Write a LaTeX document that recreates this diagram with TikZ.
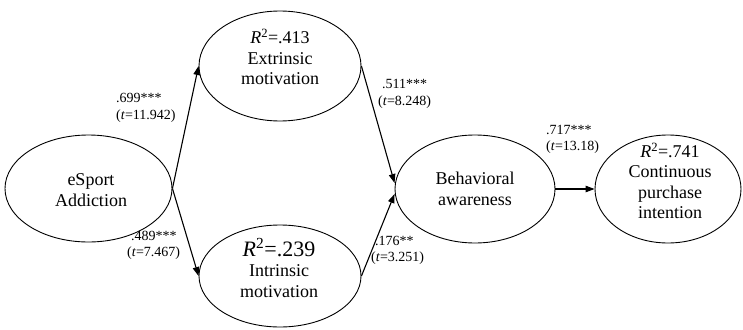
\documentclass[tikz,border=0pt]{standalone}
\usepackage{fontspec}
\setmainfont{Liberation Serif}
\usetikzlibrary{shapes.geometric,arrows.meta}
\begin{document}
\begin{tikzpicture}[x=1pt,y=-1pt,
  ell/.style={draw,ellipse,line width=0.9pt,inner sep=0pt},
  ntext/.style={align=center,inner sep=0pt,font=\fontsize{18}{20.5}\selectfont},
  plabel/.style={align=left,anchor=west,inner sep=0pt,font=\fontsize{14}{16.5}\selectfont},
  path/.style={line width=1.1pt,-{Triangle[length=9pt,width=6.5pt]}}]
\useasboundingbox (0,0) rectangle (743,329);
% ellipses
\node[ell,minimum width=167pt,minimum height=107pt] (es) at (88.5,188.5) {};
\node[ell,minimum width=162pt,minimum height=110pt] (ext) at (280,66) {};
\node[ell,minimum width=162pt,minimum height=102pt] (int) at (280,276) {};
\node[ell,minimum width=160pt,minimum height=108pt] (beh) at (475,189) {};
\node[ell,minimum width=146pt,minimum height=108pt] (cpi) at (668,189) {};
% texts
\node[ntext] (est) at (91,190) {eSport\\Addiction};
\node[ntext] (extt) at (280,57) {\textit{R}\textsuperscript{2}=.413\\Extrinsic\\motivation};
\node[ntext] (intt) at (279,268) {{\fontsize{22}{22}\selectfont\textit{R}\textsuperscript{2}=.239}\\Intrinsic\\motivation};
\node[ntext] (beht) at (475,189) {Behavioral\\awareness};
\node[ntext] (cpit) at (670,181) {\textit{R}\textsuperscript{2}=.741\\Continuous\\purchase\\intention};
% connectors
\draw[path] (es.east) -- (ext.west);
\draw[path] (es.east) -- (int.west);
\draw[path] (ext.east) -- ([yshift=6pt]beh.west);
\draw[path] (int.east) -- ([yshift=-5pt]beh.west);
\draw[path] (beh.east) -- (cpi.west);
% labels
\node[plabel] (l1) at (116,108) {.699***\\(\textit{t}=11.942)};
\node[plabel] (l2) at (127,245.5) {\hspace{4pt}.489***\\(\textit{t}=7.467)};
\node[plabel] (l3) at (378,94) {\hspace{4pt}.511***\\(\textit{t}=8.248)};
\node[plabel] (l4) at (546,139.5) {.717***\\(\textit{t}=13.18)};
\node[plabel] (l5) at (371,250.5) {\hspace{4pt}.176**\\(\textit{t}=3.251)};
\end{tikzpicture}
\end{document}
